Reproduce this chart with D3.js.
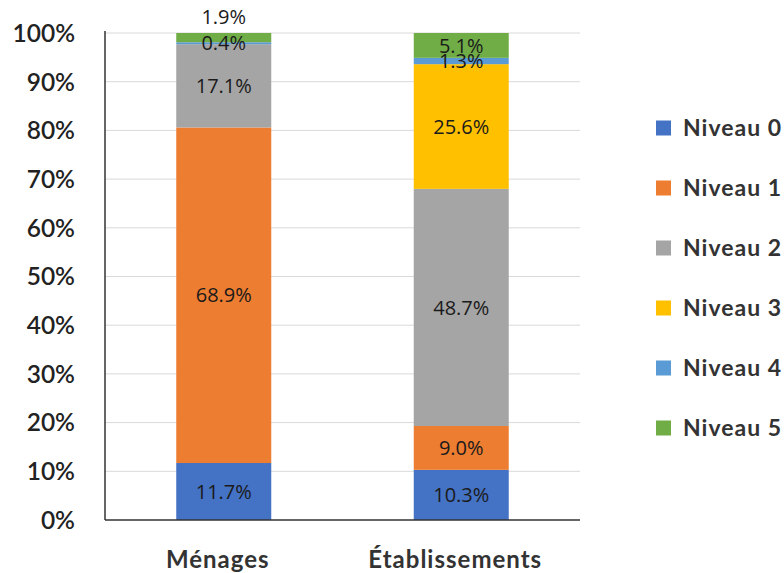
<!DOCTYPE html>
<html><head><meta charset="utf-8">
<script src="https://cdn.jsdelivr.net/npm/d3@7"></script>
<style>
body{margin:0;background:#fff;}
svg{display:block;}
</style></head>
<body>
<svg id="chart" width="784" height="573"></svg>
<script>
const categories = ["Ménages", "Établissements"];
const levels = ["Niveau 0", "Niveau 1", "Niveau 2", "Niveau 3", "Niveau 4", "Niveau 5"];
const menages = [11.7, 68.9, 17.1, 0, 0.4, 1.9];
const etablissements = [10.3, 9.0, 48.7, 25.6, 1.3, 5.1];
const colors = ["#4472C4", "#ED7D31", "#A5A5A5", "#FFC000", "#5B9BD5", "#70AD47"];
const yTicks = [0, 10, 20, 30, 40, 50, 60, 70, 80, 90, 100];

(function () {
const seriesByCat = [menages, etablissements];
const svg = d3.select("#chart");
const pLeft = 105, pRight = 580, pTop = 33, pBottom = 520;

const x = d3.scaleBand().domain(categories).range([pLeft, pRight]).padding(0);
const y = d3.scaleLinear().domain([0, 100]).range([pBottom, pTop]);
const barW = x.bandwidth() * 0.4;

// gridlines
svg.append("g").selectAll("line").data(yTicks.filter(d => d > 0)).join("line")
  .attr("x1", pLeft).attr("x2", pRight)
  .attr("y1", d => y(d)).attr("y2", d => y(d))
  .attr("stroke", "#d9d9d9").attr("stroke-width", 1);

// y tick labels
svg.append("g").selectAll("text").data(yTicks).join("text")
  .attr("x", 75).attr("y", d => y(d)).attr("dy", "0.36em")
  .attr("text-anchor", "end")
  .attr("font-family", "Lato, sans-serif").attr("font-weight", 600)
  .attr("font-size", 24.5).attr("fill", "#222")
  .text(d => d + "%");

// stacked data
const stacked = [];
categories.forEach((c, ci) => {
  let acc = 0;
  seriesByCat[ci].forEach((v, li) => {
    stacked.push({cat: c, level: li, v: v, y0: acc, y1: acc + v, last: li === levels.length - 1});
    acc += v;
  });
});

svg.append("g").selectAll("rect").data(stacked.filter(d => d.v > 0)).join("rect")
  .attr("x", d => x(d.cat) + x.bandwidth() / 2 - barW / 2)
  .attr("width", barW)
  .attr("y", d => y(d.y1))
  .attr("height", d => y(d.y0) - y(d.y1))
  .attr("fill", d => colors[d.level]);

// axes lines
svg.append("line").attr("x1", pLeft).attr("x2", pLeft).attr("y1", pTop - 2).attr("y2", pBottom)
  .attr("stroke", "#333").attr("stroke-width", 1.5);
svg.append("line").attr("x1", pLeft).attr("x2", pRight).attr("y1", pBottom).attr("y2", pBottom)
  .attr("stroke", "#333").attr("stroke-width", 1.5);

// data labels
svg.append("g").selectAll("text").data(stacked.filter(d => d.v > 0)).join("text")
  .attr("x", d => x(d.cat) + x.bandwidth() / 2)
  .attr("y", d => (d.last && d.v < 2) ? y(d.y1) - 16 : y((d.y0 + d.y1) / 2))
  .attr("dy", "0.36em")
  .attr("text-anchor", "middle")
  .attr("font-family", "'Open Sans', sans-serif").attr("font-size", 20)
  .attr("fill", "#1a1a1a")
  .text(d => d.v.toFixed(1) + "%");

// category labels
svg.append("g").selectAll("text").data(categories).join("text")
  .attr("x", d => x(d) + x.bandwidth() / 2 - 6)
  .attr("y", 568)
  .attr("text-anchor", "middle")
  .attr("font-family", "Lato, sans-serif").attr("font-weight", 700)
  .attr("font-size", 24).attr("letter-spacing", 1).attr("fill", "#333")
  .text(d => d);

// legend
const lg = svg.append("g").selectAll("g").data(levels).join("g")
  .attr("transform", (d, i) => `translate(656,${128 + i * 60})`);
lg.append("rect").attr("x", 0).attr("y", -7.5).attr("width", 15).attr("height", 15)
  .attr("fill", (d, i) => colors[i]);
lg.append("text").attr("x", 27).attr("y", 0).attr("dy", "0.36em")
  .attr("font-family", "Lato, sans-serif").attr("font-weight", 700)
  .attr("font-size", 23).attr("letter-spacing", 1).attr("fill", "#333")
  .text(d => d);
})();
</script>
</body></html>
